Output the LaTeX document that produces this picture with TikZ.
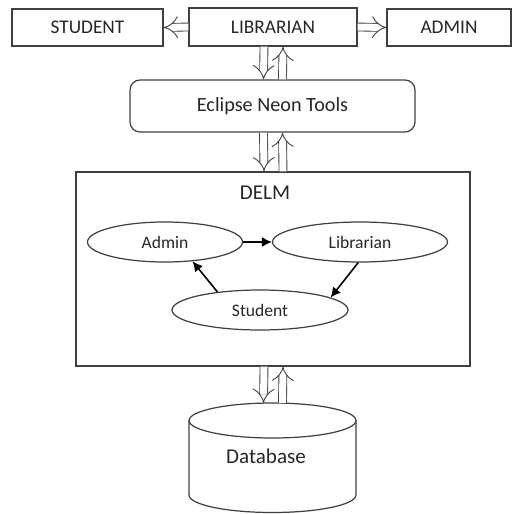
\documentclass[tikz,border=0pt]{standalone}
\usepackage{fontspec}
\setmainfont{Carlito}
\usetikzlibrary{arrows.meta,shapes.geometric}
\begin{document}
\begin{tikzpicture}[x=0.02cm, y=-0.02cm,
    every node/.style={text=black!85, font=\fontsize{11}{13}\selectfont},
    box/.style={draw=black!75, line width=0.7pt, rectangle, inner sep=0pt},
    oval/.style={draw=black!75, line width=0.7pt, ellipse, inner sep=0pt, minimum height=0.8cm, font=\fontsize{10}{12}\selectfont},
    dbl/.style={draw=black!75, double, double distance=4pt, line width=0.5pt, -{Implies}},
    flow/.style={draw=black, line width=0.9pt, -{Latex[length=2mm,width=2mm]}}]
    \useasboundingbox (0,0) rectangle (512,514);

    \node[box, minimum width=3.02cm, minimum height=0.74cm] (student) at (87.5,27.5) {STUDENT};
    \node[box, minimum width=3.36cm, minimum height=0.76cm] (lib) at (273,27) {LIBRARIAN};
    \node[box, minimum width=2.48cm, minimum height=0.74cm] (admin) at (449,27.5) {ADMIN};
    \node[box, rounded corners=0.2cm, minimum width=5.7cm, minimum height=1.04cm, font=\fontsize{11.5}{13}\selectfont] (tools) at (272.5,106) {Eclipse Neon Tools};
    \node[box, minimum width=7.88cm, minimum height=3.88cm] (delm) at (273,269) {};
    \node[font=\fontsize{12}{14}\selectfont] (delmlbl) at (265,193) {DELM};

    \node[oval, minimum width=3.1cm] (eadmin) at (165,242) {Admin};
    \node[oval, minimum width=3.5cm] (elib) at (360,242) {Librarian};
    \node[oval, minimum width=3.52cm] (estud) at (260,310) {Student};

    % database drum
    \draw[draw=black!75, line width=0.7pt] (272.5,420.5) ellipse [x radius=1.67cm, y radius=0.35cm];
    \draw[draw=black!75, line width=0.7pt] (189,420.5) -- (189,495)
        arc[start angle=180, end angle=360, x radius=1.67cm, y radius=0.35cm] -- (356,420.5);
    \coordinate (dbtop) at (272.5,403);
    \node[font=\fontsize{12}{14}\selectfont] (dblbl) at (266,456) {Database};

    \draw[dbl] (lib.west) -- (student.east);
    \draw[dbl] (lib.east) -- (admin.west);
    \draw[dbl] ([xshift=-0.18cm]lib.south) -- ([xshift=-0.18cm]tools.north);
    \draw[dbl] ([xshift=0.2cm]tools.north) -- ([xshift=0.2cm]lib.south);
    \draw[dbl] ([xshift=-0.18cm]tools.south) -- ([xshift=-0.18cm]delm.north);
    \draw[dbl] ([xshift=0.2cm]delm.north) -- ([xshift=0.2cm]tools.south);
    \draw[dbl] ([xshift=-0.18cm]delm.south) -- ([xshift=-0.18cm]dbtop);
    \draw[dbl] ([xshift=0.2cm]dbtop) -- ([xshift=0.2cm]delm.south);

    \draw[flow] (eadmin) -- (elib);
    \draw[flow] (elib.265) -- (estud.10);
    \draw[flow] (estud.157) -- (eadmin.-35);
\end{tikzpicture}
\end{document}
